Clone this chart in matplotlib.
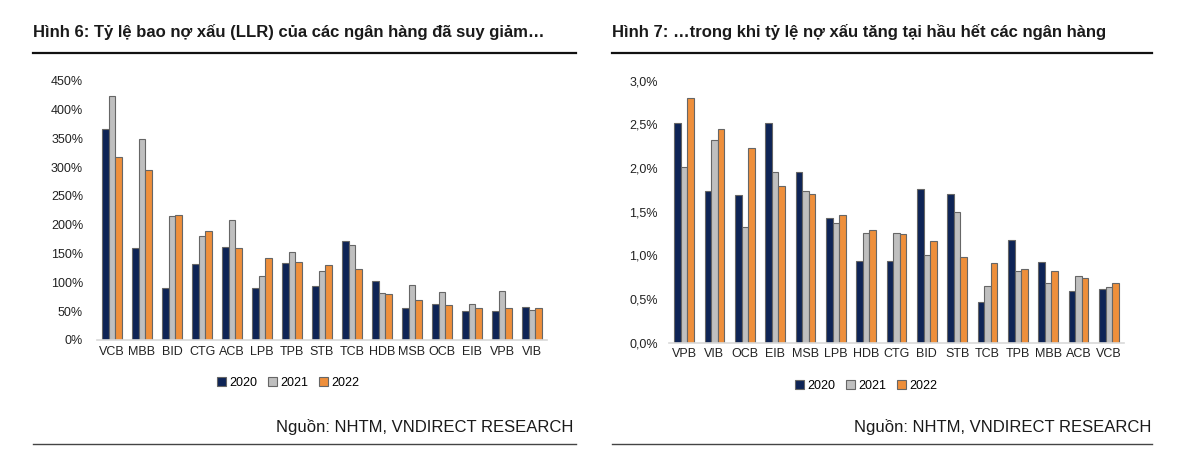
import matplotlib
matplotlib.use("Agg")
import matplotlib.pyplot as plt
import numpy as np
from matplotlib.lines import Line2D
from matplotlib.patches import Patch
from matplotlib.ticker import FuncFormatter, MultipleLocator

plt.rcParams['font.family'] = ['Liberation Sans', 'DejaVu Sans']

# ---- Data: Figure 6 (LLR, %) ----
llr_banks = ["VCB", "MBB", "BID", "CTG", "ACB", "LPB", "TPB", "STB", "TCB", "HDB", "MSB", "OCB", "EIB", "VPB", "VIB"]
llr_2020 = [367, 159, 90, 132, 161, 90, 134, 94, 171, 102, 55, 63, 51, 51, 58]
llr_2021 = [424, 349, 215, 181, 209, 111, 152, 119, 164, 81, 95, 83, 62, 85, 52]
llr_2022 = [318, 295, 217, 189, 159, 142, 135, 131, 124, 79, 69, 60, 56, 55, 55]

# ---- Data: Figure 7 (NPL ratio, %) ----
npl_banks = ["VPB", "VIB", "OCB", "EIB", "MSB", "LPB", "HDB", "CTG", "BID", "STB", "TCB", "TPB", "MBB", "ACB", "VCB"]
npl_2020 = [2.52, 1.74, 1.69, 2.52, 1.96, 1.43, 0.93, 0.94, 1.76, 1.70, 0.47, 1.18, 0.92, 0.59, 0.62]
npl_2021 = [2.01, 2.32, 1.32, 1.96, 1.74, 1.37, 1.26, 1.26, 1.00, 1.50, 0.65, 0.82, 0.68, 0.76, 0.64]
npl_2022 = [2.80, 2.45, 2.23, 1.80, 1.70, 1.46, 1.29, 1.24, 1.16, 0.98, 0.91, 0.84, 0.82, 0.74, 0.68]

years = ["2020", "2021", "2022"]
colors = ["#0E2456", "#BFBFBF", "#EE8F3B"]
edge = "#666666"

W, H = 1200, 471
fig = plt.figure(figsize=(W / 100, H / 100), dpi=100)


def fx(px):
    return px / W


def fy(py):
    return 1 - py / H


def draw(ax, cats, series, ymax, ystep, fmt, ypad):
    x = np.arange(len(cats))
    bw = 0.215
    for i, (vals, c) in enumerate(zip(series, colors)):
        ax.bar(x + (i - 1) * bw, vals, width=bw, color=c, edgecolor=edge, linewidth=0.8, zorder=2)
    ax.set_xlim(-0.5, len(cats) - 0.5)
    ax.set_ylim(0, ymax)
    ax.yaxis.set_major_locator(MultipleLocator(ystep))
    ax.yaxis.set_major_formatter(FuncFormatter(fmt))
    ax.set_xticks(x)
    ax.set_xticklabels(cats)
    for s in ["top", "right", "left"]:
        ax.spines[s].set_visible(False)
    ax.spines["bottom"].set_color("#D9D9D9")
    ax.spines["bottom"].set_linewidth(1.2)
    ax.tick_params(axis="both", length=0, labelsize=9, colors="#222222")
    ax.tick_params(axis="y", pad=ypad)
    ax.tick_params(axis="x", pad=4)


# Left chart
ax1 = fig.add_axes([fx(97), fy(340), fx(450), (340 - 80.7) / H])
draw(ax1, llr_banks, [llr_2020, llr_2021, llr_2022], 450, 50,
     lambda v, p: f"{int(round(v))}%", 10)

# Right chart
ax2 = fig.add_axes([fx(669), fy(342.7), fx(455), (342.7 - 80.7) / H])
draw(ax2, npl_banks, [npl_2020, npl_2021, npl_2022], 3.0, 0.5,
     lambda v, p: f"{v:.1f}%".replace(".", ","), 8)

# Legends
handles = [Patch(facecolor=c, edgecolor=edge, linewidth=0.8, label=y) for c, y in zip(colors, years)]
for cx, cy in [(288, 383), (866, 386)]:
    fig.legend(handles=handles, loc="center", bbox_to_anchor=(fx(cx), fy(cy)), ncol=3, frameon=False,
               fontsize=9, handlelength=0.7, handleheight=0.7, handletextpad=0.25,
               columnspacing=0.9, borderpad=0)

# Titles
fig.text(fx(33), fy(32), "Hình 6: Tỷ lệ bao nợ xấu (LLR) của các ngân hàng đã suy giảm…",
         fontsize=12, fontweight="bold", color="#1A1A1A", va="center", ha="left")
fig.text(fx(612), fy(32), "Hình 7: …trong khi tỷ lệ nợ xấu tăng tại hầu hết các ngân hàng",
         fontsize=12, fontweight="bold", color="#1A1A1A", va="center", ha="left")

# Sources
fig.text(fx(573), fy(427), "Nguồn: NHTM, VNDIRECT RESEARCH", fontsize=12, color="#1A1A1A",
         va="center", ha="right")
fig.text(fx(1151), fy(427), "Nguồn: NHTM, VNDIRECT RESEARCH", fontsize=12, color="#1A1A1A",
         va="center", ha="right")

# Rules
for x0, x1 in [(33, 576), (612, 1152)]:
    fig.add_artist(Line2D([fx(x0), fx(x1)], [fy(53), fy(53)], color="#111111", linewidth=1.6))
    fig.add_artist(Line2D([fx(x0), fx(x1)], [fy(444), fy(444)], color="#444444", linewidth=1.0))

fig.savefig("out.png", dpi=100)
